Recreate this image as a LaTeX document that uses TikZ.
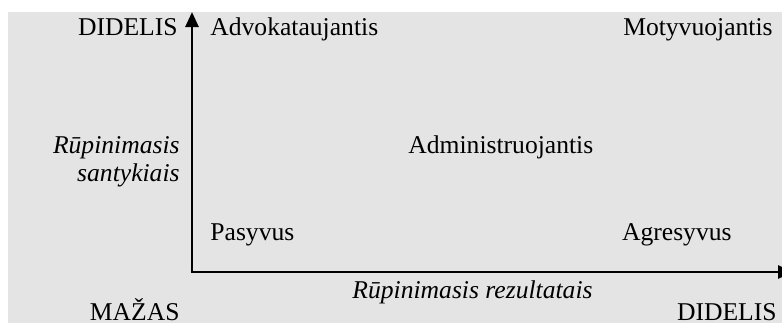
\documentclass[tikz,border=0pt]{standalone}
\usepackage{fontspec}
\setmainfont{Liberation Serif}
\usetikzlibrary{arrows.meta}
\begin{document}
\begin{tikzpicture}[x=0.5pt,y=-0.5pt,
  lbl/.style={inner sep=0pt,font=\fontsize{12.8pt}{15pt}\selectfont},
  axis/.style={line width=1.3pt,-{Triangle[length=7.5pt,width=6.5pt]}}]
\useasboundingbox (0,0) rectangle (782,323);
\clip (0,0) rectangle (782,323);
\fill[white] (0,0) rectangle (782,323);
\fill[gray!21!white] (8,12) rectangle (782,323);
\coordinate (o) at (192,272);
\coordinate (ytop) at (192,12);
\coordinate (xend) at (793,272);
\draw[axis] (o) -- (ytop);
\draw[axis] ([xshift=-0.65pt]o) -- (xend);
\node[lbl,anchor=base east] (ybig) at (178,35) {DIDELIS};
\node[lbl,anchor=base west] (adv) at (210,35) {Advokataujantis};
\node[lbl,anchor=base east] (mot) at (773,35) {Motyvuojantis};
\node[lbl,anchor=base east] (ylab1) at (180,153) {\itshape Rūpinimasis};
\node[lbl,anchor=base east] (ylab2) at (180,181) {\itshape santykiais};
\node[lbl,anchor=base west] (adm) at (408,153) {Administruojantis};
\node[lbl,anchor=base west] (pas) at (210,240) {Pasyvus};
\node[lbl,anchor=base east] (agr) at (732,240) {Agresyvus};
\node[lbl,anchor=base east] (xlab) at (593,298) {\itshape Rūpinimasis rezultatais};
\node[lbl,anchor=base east] (maz) at (180,320) {MAŽAS};
\node[lbl,anchor=base east] (xbig) at (777,320) {DIDELIS};
\end{tikzpicture}
\end{document}
